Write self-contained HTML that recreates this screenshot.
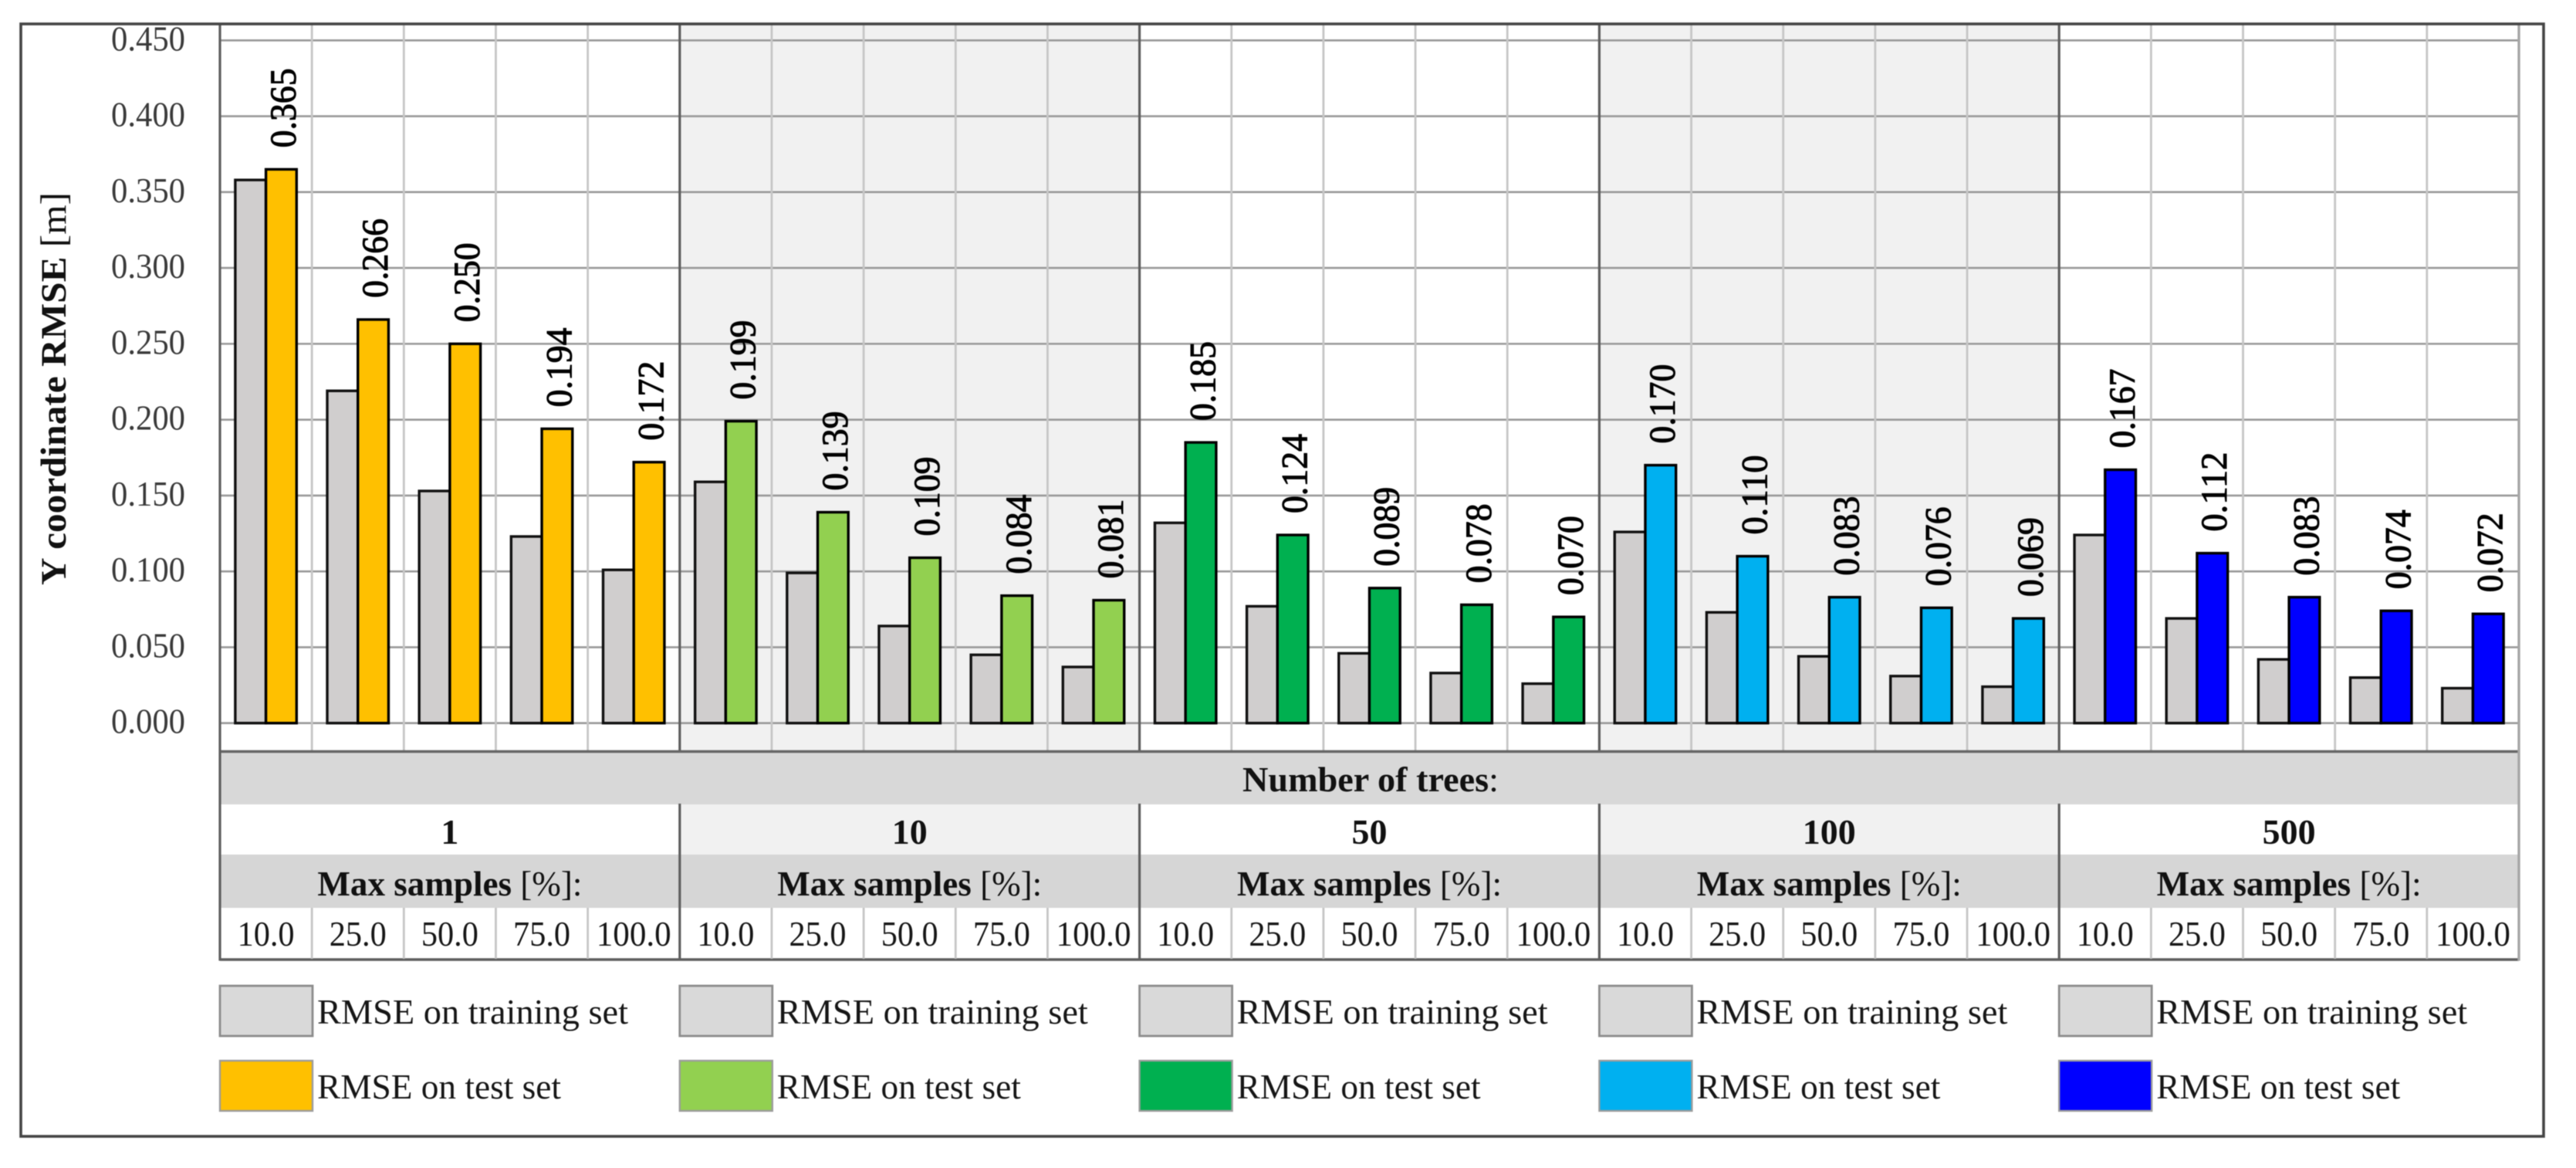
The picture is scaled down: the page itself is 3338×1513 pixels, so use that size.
<!DOCTYPE html>
<html lang="en">
<head>
<meta charset="utf-8">
<title>Y coordinate RMSE chart</title>
<style>
html,body{margin:0;padding:0;background:#fff;}
svg{display:block;filter:blur(0.6px);}
text{font-family:"Liberation Serif",serif;}
</style>
</head>
<body>
<svg id="chart" xmlns="http://www.w3.org/2000/svg" width="3338" height="1513" viewBox="0 0 3338 1513">
<rect x="0" y="0" width="3338" height="1513" fill="#ffffff"/>
<g id="shading"></g>
<g id="grid"></g>
<g id="table"></g>
<g id="bars"></g>
<g id="values"></g>
<g id="ticks"></g>
<g id="legend"></g>
<text transform="translate(85,758) rotate(-90)" font-size="47" fill="#111" textLength="509" lengthAdjust="spacingAndGlyphs"><tspan font-weight="bold">Y coordinate RMSE</tspan> [m]</text>
<text x="1610" y="1025" font-size="46" fill="#111" textLength="332" lengthAdjust="spacingAndGlyphs"><tspan font-weight="bold">Number of trees</tspan>:</text>
<rect x="27" y="31" width="3269" height="1441" fill="none" stroke="#454545" stroke-width="3.6"/>
</svg>
<script>
// ---- chart data ----
const treeCounts = ['1', '10', '50', '100', '500'];
const maxSamples = ['10.0', '25.0', '50.0', '75.0', '100.0'];
const yTicks = [0, 0.05, 0.1, 0.15, 0.2, 0.25, 0.3, 0.35, 0.4, 0.45];

const trainTrees1 = [0.358, 0.219, 0.153, 0.123, 0.101];
const testTrees1 = [0.365, 0.266, 0.250, 0.194, 0.172];
const trainTrees10 = [0.159, 0.099, 0.064, 0.045, 0.037];
const testTrees10 = [0.199, 0.139, 0.109, 0.084, 0.081];
const trainTrees50 = [0.132, 0.077, 0.046, 0.033, 0.026];
const testTrees50 = [0.185, 0.124, 0.089, 0.078, 0.070];
const trainTrees100 = [0.126, 0.073, 0.044, 0.031, 0.024];
const testTrees100 = [0.170, 0.110, 0.083, 0.076, 0.069];
const trainTrees500 = [0.124, 0.069, 0.042, 0.030, 0.023];
const testTrees500 = [0.167, 0.112, 0.083, 0.074, 0.072];

const trainSeries = [trainTrees1, trainTrees10, trainTrees50, trainTrees100, trainTrees500];
const testSeries = [testTrees1, testTrees10, testTrees50, testTrees100, testTrees500];
const testColors = ['#FFC000', '#92D050', '#00B050', '#00B0F0', '#0000FF'];

// ---- layout and axis functions ----
const NS = 'http://www.w3.org/2000/svg';
const PLOT_LEFT = 285, PLOT_RIGHT = 3264, PLOT_TOP = 31, TABLE_TOP = 974;
const Y_ZERO = 936.7, PX_PER_UNIT = 1965.3;
const GROUPS = treeCounts.length, CATS = maxSamples.length;
const GROUP_W = (PLOT_RIGHT - PLOT_LEFT) / GROUPS;
const CAT_W = GROUP_W / CATS;
const BAR_W = CAT_W / 3;
function yScale(v) { return Y_ZERO - v * PX_PER_UNIT; }
function groupX(g) { return PLOT_LEFT + g * GROUP_W; }
function catX(g, c) { return groupX(g) + c * CAT_W; }
function catCenter(g, c) { return catX(g, c) + CAT_W / 2; }

function make(parentId, tag, attrs, txt) {
  const el = document.createElementNS(NS, tag);
  for (const k in attrs) el.setAttribute(k, attrs[k]);
  if (txt !== undefined) el.textContent = txt;
  document.getElementById(parentId).appendChild(el);
  return el;
}
function rect(parentId, x, y, w, h, fill) {
  return make(parentId, 'rect', {x: x, y: y, width: w, height: h, fill: fill});
}
function line(parentId, x1, y1, x2, y2, stroke, width) {
  return make(parentId, 'line', {x1: x1, y1: y1, x2: x2, y2: y2, stroke: stroke, 'stroke-width': width});
}
let el;

// ---- shaded groups ----
for (let g = 1; g < GROUPS; g += 2) {
  el = rect('shading', groupX(g), PLOT_TOP, GROUP_W, TABLE_TOP - PLOT_TOP, '#F1F1F1');
  
  
  el = rect('shading', groupX(g), 1042, GROUP_W, 65, '#F1F1F1');
  
  
}

// ---- grid ----
yTicks.forEach(function (t) {
  el = line('grid', PLOT_LEFT, yScale(t), PLOT_RIGHT, yScale(t), '#999999', 2.6);
  
  
});
for (let g = 0; g < GROUPS; g++) {
  for (let c = 1; c < CATS; c++) {
    el = line('grid', catX(g, c), PLOT_TOP, catX(g, c), TABLE_TOP, '#C6C6C6', 2.8);
    
    
  }
}
for (let g = 1; g < GROUPS; g++) {
  el = line('grid', groupX(g), PLOT_TOP, groupX(g), TABLE_TOP, '#5E5E5E', 3.2);
  
  
}

// ---- table below the plot ----
el = rect('table', PLOT_LEFT, 975, PLOT_RIGHT - PLOT_LEFT, 67, '#D8D8D8');


el = rect('table', PLOT_LEFT, 1107, PLOT_RIGHT - PLOT_LEFT, 69, '#D6D6D6');


el = line('table', PLOT_LEFT, 973.5, PLOT_RIGHT, 973.5, '#666666', 3.6);


el = line('table', PLOT_LEFT, 1243, PLOT_RIGHT, 1243, '#5E5E5E', 3.4);


el = line('table', PLOT_LEFT, PLOT_TOP, PLOT_LEFT, 1244.5, '#5E5E5E', 3.2);


el = line('table', PLOT_RIGHT, PLOT_TOP, PLOT_RIGHT, 1244.5, '#A6A6A6', 3.4);



for (let g = 0; g < GROUPS; g++) {
  if (g > 0) {
    el = line('table', groupX(g), 1041, groupX(g), 1243, '#5E5E5E', 3.2);
    
    
  }
  const cx = groupX(g) + GROUP_W / 2;
  el = make('table', 'text', {x: cx, y: 1093, 'text-anchor': 'middle', 'font-size': 46, 'font-weight': 'bold', fill: '#111'}, treeCounts[g]);
  
  

  el = make('table', 'text', {x: cx - 171.5, y: 1160, 'font-size': 46, fill: '#111', textLength: 343, lengthAdjust: 'spacingAndGlyphs'});
  
  
  const bold = document.createElementNS(NS, 'tspan');
  bold.setAttribute('font-weight', 'bold');
  bold.textContent = 'Max samples';
  el.appendChild(bold);
  el.appendChild(document.createTextNode(' [%]:'));

  for (let c = 0; c < CATS; c++) {
    if (c > 0) {
      el = line('table', catX(g, c), 1176, catX(g, c), 1242, '#C6C6C6', 2.8);
      
      
    }
    const wide = maxSamples[c].length > 4;
    el = make('table', 'text', {x: catCenter(g, c), y: 1225, 'text-anchor': 'middle', 'font-size': 46, fill: '#161616', textLength: wide ? 97 : 74, lengthAdjust: 'spacingAndGlyphs'}, maxSamples[c]);
    
    
  }
}

// ---- bars and value labels ----
for (let g = 0; g < GROUPS; g++) {
  for (let c = 0; c < CATS; c++) {
    const mid = catCenter(g, c);
    const trainY = yScale(trainSeries[g][c]);
    const testY = yScale(testSeries[g][c]);
    el = make('bars', 'rect', {x: mid - BAR_W, y: trainY, width: BAR_W, height: Y_ZERO - trainY, fill: '#D0CECE', stroke: '#111111', 'stroke-width': 3.4});
    
    
    el = make('bars', 'rect', {x: mid, y: testY, width: BAR_W, height: Y_ZERO - testY, fill: testColors[g], stroke: '#000000', 'stroke-width': 3.4});
    
    
    el = make('values', 'text', {transform: 'translate(' + (mid + BAR_W - 1.5) + ',' + (testY - 28) + ') rotate(-90)', 'font-size': 48, fill: '#000', stroke: '#000', 'stroke-width': 1, textLength: 103, lengthAdjust: 'spacingAndGlyphs'}, testSeries[g][c].toFixed(3));
    
    
  }
}

// ---- y tick labels ----
yTicks.forEach(function (t) {
  el = make('ticks', 'text', {x: 240, y: yScale(t) + 13, 'text-anchor': 'end', 'font-size': 46, fill: '#3a3a3a', textLength: 96, lengthAdjust: 'spacingAndGlyphs'}, t.toFixed(3));
  
  
});

// ---- legend ----
for (let g = 0; g < GROUPS; g++) {
  const lx = groupX(g);
  el = make('legend', 'rect', {x: lx, y: 1277, width: 120, height: 65, fill: '#D9D9D9', stroke: '#8C8C8C', 'stroke-width': 2.8});
  
  
  el = make('legend', 'text', {x: lx + 126, y: 1326, 'font-size': 46, fill: '#161616', textLength: 403, lengthAdjust: 'spacingAndGlyphs'}, 'RMSE on training set');
  
  
  el = make('legend', 'rect', {x: lx, y: 1374, width: 120, height: 65, fill: testColors[g], stroke: '#9C9C9C', 'stroke-width': 2.4});
  
  
  el = make('legend', 'text', {x: lx + 126, y: 1423, 'font-size': 46, fill: '#161616', textLength: 316, lengthAdjust: 'spacingAndGlyphs'}, 'RMSE on test set');
  
  
}
</script>
</body>
</html>
